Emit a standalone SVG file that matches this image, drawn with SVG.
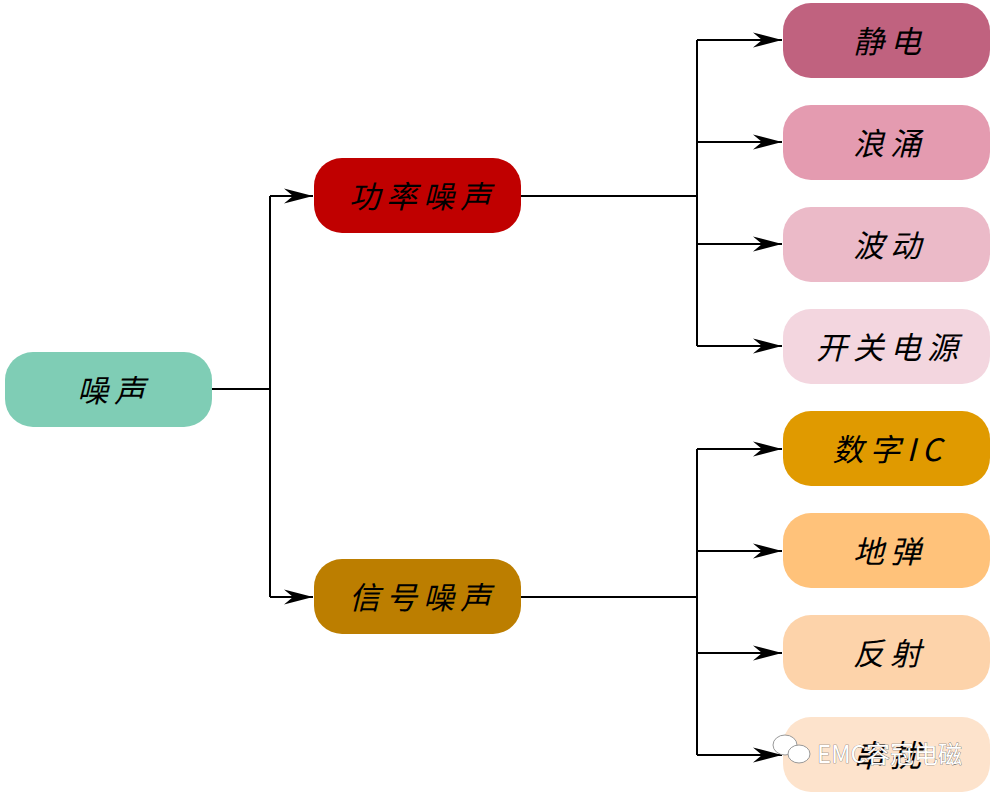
<svg xmlns="http://www.w3.org/2000/svg" width="993" height="797" viewBox="0 0 993 797">
<defs>
<style>
.t{font-family:"Noto Sans CJK SC","Liberation Sans",sans-serif;font-size:31px;font-style:italic;fill:#000;text-anchor:middle;dominant-baseline:central;letter-spacing:6px}
.c{fill:none;stroke:#000;stroke-width:2}
.wm{font-family:"Noto Sans CJK SC","Liberation Sans",sans-serif;font-size:24px;fill:#fff;stroke:#555;stroke-width:0.6;paint-order:stroke}
</style>
<marker id="a" markerWidth="32" markerHeight="18" refX="29" refY="9" orient="auto" markerUnits="userSpaceOnUse">
<path d="M0,1.5 L29,9 L0,16.5 L9,9 z" fill="#000"/>
</marker>
</defs>
<rect width="993" height="797" fill="#fff"/>
<g id="connectors">
<path class="c" d="M212,389 H270 M270,196 V597"/>
<path class="c" marker-end="url(#a)" d="M270,196 H313"/>
<path class="c" marker-end="url(#a)" d="M270,597 H313"/>
<path class="c" d="M521,196 H697 M697,40 V346"/>
<path class="c" marker-end="url(#a)" d="M697,40 H782"/>
<path class="c" marker-end="url(#a)" d="M697,142 H782"/>
<path class="c" marker-end="url(#a)" d="M697,244 H782"/>
<path class="c" marker-end="url(#a)" d="M697,346 H782"/>
<path class="c" d="M521,597 H697 M697,449 V755"/>
<path class="c" marker-end="url(#a)" d="M697,449 H782"/>
<path class="c" marker-end="url(#a)" d="M697,551 H782"/>
<path class="c" marker-end="url(#a)" d="M697,653 H782"/>
<path class="c" marker-end="url(#a)" d="M697,755 H782"/>
</g>
<g id="n0"><rect x="5" y="352" width="207" height="75" rx="28" fill="#7FCDB5"/><text class="t" x="114" y="388">噪声</text></g>
<g id="n1"><rect x="314" y="158" width="207" height="75" rx="28" fill="#C00000"/><text class="t" x="423" y="194">功率噪声</text></g>
<g id="n2"><rect x="314" y="559" width="207" height="75" rx="28" fill="#BC7E00"/><text class="t" x="423" y="595">信号噪声</text></g>
<g id="n3"><rect x="783" y="3" width="207" height="75" rx="28" fill="#C0627F"/><text class="t" x="890" y="39">静电</text></g>
<g id="n4"><rect x="783" y="105" width="207" height="75" rx="28" fill="#E49BB0"/><text class="t" x="890" y="141">浪涌</text></g>
<g id="n5"><rect x="783" y="207" width="207" height="75" rx="28" fill="#EBBAC8"/><text class="t" x="890" y="243">波动</text></g>
<g id="n6"><rect x="783" y="309" width="207" height="75" rx="28" fill="#F3D6DF"/><text class="t" x="890" y="345">开关电源</text></g>
<g id="n7"><rect x="783" y="411" width="207" height="75" rx="28" fill="#E09A00"/><text class="t" x="890" y="447">数字IC</text></g>
<g id="n8"><rect x="783" y="513" width="207" height="75" rx="28" fill="#FFC27A"/><text class="t" x="890" y="549">地弹</text></g>
<g id="n9"><rect x="783" y="615" width="207" height="75" rx="28" fill="#FDD3AA"/><text class="t" x="890" y="651">反射</text></g>
<g id="n10"><rect x="783" y="717" width="207" height="75" rx="28" fill="#FDE3CC"/><text class="t" x="890" y="753">串扰</text></g>
<g id="watermark">
<ellipse cx="785" cy="745" rx="12" ry="10" fill="#fff" stroke="#999" stroke-width="1"/>
<ellipse cx="799" cy="754" rx="11" ry="9" fill="#fff" stroke="#999" stroke-width="1"/>
<text class="wm" x="817" y="763">EMC容冠电磁</text>
</g>
</svg>
